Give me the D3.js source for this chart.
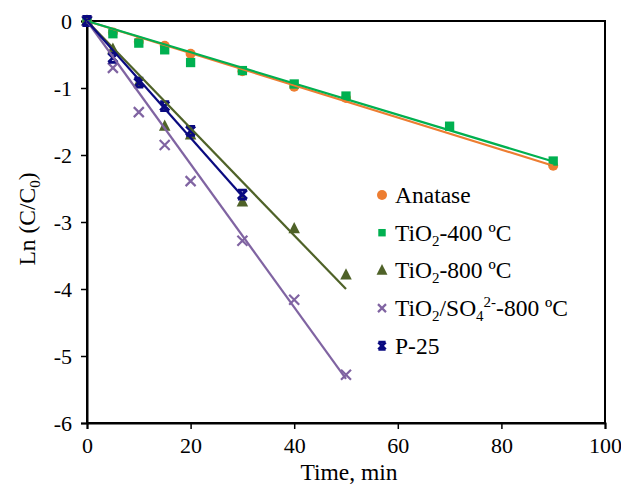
<!DOCTYPE html>
<html>
<head>
<meta charset="utf-8">
<script src="https://cdn.jsdelivr.net/npm/d3@7/dist/d3.min.js"></script>
<style>
  html, body { margin: 0; padding: 0; background: #fff; }
  svg { display: block; font-family: "Liberation Serif", "Times New Roman", serif; }
</style>
</head>
<body>
<svg id="chart" width="621" height="486"></svg>
<script>
// Kinetics of photocatalytic degradation: Ln(C/C0) vs. irradiation time
const seriesNames = ["Anatase", "TiO2-400", "TiO2-800", "TiO2/SO4-800", "P-25"];

const anataseTime = [0, 5, 10, 15, 20, 30, 40, 50, 90];
const anataseLn   = [0, -0.17, -0.31, -0.37, -0.49, -0.75, -0.98, -1.15, -2.16];

const tio400Time = [0, 5, 10, 15, 20, 30, 40, 50, 70, 90];
const tio400Ln   = [0, -0.19, -0.33, -0.43, -0.62, -0.74, -0.94, -1.12, -1.57, -2.09];

const tio800Time = [0, 5, 10, 15, 20, 30, 40, 50];
const tio800Ln   = [0, -0.42, -0.92, -1.57, -1.70, -2.70, -3.10, -3.79];

const sulfTime = [0, 5, 10, 15, 20, 30, 40, 50];
const sulfLn   = [0, -0.70, -1.36, -1.85, -2.39, -3.28, -4.16, -5.28];

const p25Time = [0, 5, 10, 15, 20, 30];
const p25Ln   = [0, -0.55, -0.92, -1.27, -1.64, -2.59];

// first-order rate constants (linear trendlines through the origin)
const rateSlopes = [-0.0240, -0.0233, -0.0800, -0.1068, -0.0872];

const xTicks = [0, 20, 40, 60, 80, 100];
const yTicks = [0, -1, -2, -3, -4, -5, -6];

const colors  = ["#ED7D31", "#00B050", "#4F6228", "#8064A2", "#0A0A80"];
const symbols = ["circle", "square", "triangle", "cross", "star"];

const series = [
  { t: anataseTime, v: anataseLn },
  { t: tio400Time,  v: tio400Ln },
  { t: tio800Time,  v: tio800Ln },
  { t: sulfTime,    v: sulfLn },
  { t: p25Time,     v: p25Ln }
].map((s, i) => ({
  name: seriesNames[i],
  color: colors[i],
  symbol: symbols[i],
  slope: rateSlopes[i],
  points: s.t.map((t, j) => ({ t, v: s.v[j] }))
}));

const svg = d3.select("#chart");
const margin = { left: 87, top: 21, right: 16, bottom: 63 };
const W = 621, H = 486;
const x = d3.scaleLinear().domain([0, 100]).range([margin.left, W - margin.right]);
const y = d3.scaleLinear().domain([-6, 0]).range([H - margin.bottom, margin.top]);

// plot frame
svg.append("rect")
  .attr("x", x(0)).attr("y", y(0))
  .attr("width", x(100) - x(0)).attr("height", y(-6) - y(0))
  .attr("fill", "none").attr("stroke", "#000").attr("stroke-width", 2);

// axes
const xAxis = svg.append("g")
  .attr("transform", `translate(0,${y(-6)})`)
  .call(d3.axisBottom(x).tickValues(xTicks).tickSize(6).tickPadding(9).tickFormat(d3.format("d")));
const yAxis = svg.append("g")
  .attr("transform", `translate(${x(0)},0)`)
  .call(d3.axisLeft(y).tickValues(yTicks).tickSize(6).tickPadding(9).tickFormat(d => String(d)));

[xAxis, yAxis].forEach(g => {
  g.select(".domain").attr("stroke", "#000").attr("stroke-width", 2);
  g.selectAll(".tick line").attr("stroke", "#000").attr("stroke-width", 1.5);
  g.selectAll(".tick text")
    .attr("fill", "#000")
    .style("font-family", '"Liberation Serif", "Times New Roman", serif')
    .style("font-size", "22px");
});
yAxis.selectAll(".tick text").attr("dy", "0.34em");
xAxis.selectAll(".tick text").attr("dy", "0.68em");

// axis titles
svg.append("text")
  .attr("x", (x(0) + x(100)) / 2 + 3).attr("y", 480)
  .attr("text-anchor", "middle")
  .style("font-size", "23.5px")
  .text("Time, min");

const yTitle = svg.append("text")
  .attr("transform", `translate(35,${(y(0) + y(-6)) / 2 - 3}) rotate(-90)`)
  .attr("text-anchor", "middle")
  .style("font-size", "23.5px");
yTitle.append("tspan").text("Ln (C/C");
yTitle.append("tspan").attr("dy", 5).style("font-size", "15px").text("0");
yTitle.append("tspan").attr("dy", -5).text(")");

// marker drawing
function drawMarker(g, symbol, color, cx, cy, scale) {
  const k = scale || 1;
  if (symbol === "circle") {
    g.append("circle").attr("cx", cx).attr("cy", cy).attr("r", 5 * k).attr("fill", color);
  } else if (symbol === "square") {
    const s = 9.3 * k;
    g.append("rect").attr("x", cx - s / 2).attr("y", cy - s / 2).attr("width", s).attr("height", s).attr("fill", color);
  } else if (symbol === "triangle") {
    const s = 11.5 * k;
    g.append("path")
      .attr("d", `M${cx},${cy - s * 0.58}L${cx + s / 2},${cy + s * 0.4}L${cx - s / 2},${cy + s * 0.4}Z`)
      .attr("fill", color);
  } else if (symbol === "cross") {
    const s = 5 * k;
    g.append("path")
      .attr("d", `M${cx - s},${cy - s}L${cx + s},${cy + s}M${cx - s},${cy + s}L${cx + s},${cy - s}`)
      .attr("stroke", color).attr("stroke-width", 2.2).attr("fill", "none");
  } else if (symbol === "star") {
    const s = 4.5 * k;
    g.append("path")
      .attr("d", `M${cx - s},${cy - s}L${cx + s},${cy + s}M${cx - s},${cy + s}L${cx + s},${cy - s}` +
                 `M${cx - s},${cy - s}L${cx + s},${cy - s}M${cx - s},${cy + s}L${cx + s},${cy + s}`)
      .attr("stroke", color).attr("stroke-width", 2.8).attr("fill", "none");
  }
}

// data markers
const marks = svg.append("g");
series.forEach(s => {
  const g = marks.append("g");
  s.points.forEach(p => drawMarker(g, s.symbol, s.color, x(p.t), y(p.v)));
});

// trendlines
const line = d3.line().x(d => x(d.t)).y(d => y(d.v));
series.forEach(s => {
  const tMax = d3.max(s.points, p => p.t);
  const ends = [{ t: 0, v: 0 }, { t: tMax, v: s.slope * tMax }];
  svg.append("path")
    .datum(ends)
    .attr("d", line)
    .attr("fill", "none")
    .attr("stroke", s.color)
    .attr("stroke-width", 2.2);
});

// legend
const legend = svg.append("g").attr("transform", "translate(382,195)");
const rowGap = 37.7;
series.forEach((s, i) => {
  const row = legend.append("g").attr("transform", `translate(0,${i * rowGap})`);
  drawMarker(row, s.symbol, s.color, 0, 0, s.symbol === "triangle" ? 0.95 : (s.symbol === "circle" ? 1 : 0.8));
  const txt = row.append("text").attr("x", 13).attr("y", 8).style("font-size", "23.5px");
  if (i === 0) {
    txt.text("Anatase");
  } else if (i === 1 || i === 2) {
    txt.append("tspan").text("TiO");
    txt.append("tspan").attr("dy", 5).style("font-size", "15px").text("2");
    txt.append("tspan").attr("dy", -5).text(i === 1 ? "-400 ºC" : "-800 ºC");
  } else if (i === 3) {
    txt.append("tspan").text("TiO");
    txt.append("tspan").attr("dy", 5).style("font-size", "15px").text("2");
    txt.append("tspan").attr("dy", -5).text("/SO");
    txt.append("tspan").attr("dy", 5).style("font-size", "15px").text("4");
    txt.append("tspan").attr("dy", -14).style("font-size", "15px").text("2-");
    txt.append("tspan").attr("dy", 9).text("-800 ºC");
  } else {
    txt.text("P-25");
  }
});
</script>
</body>
</html>
